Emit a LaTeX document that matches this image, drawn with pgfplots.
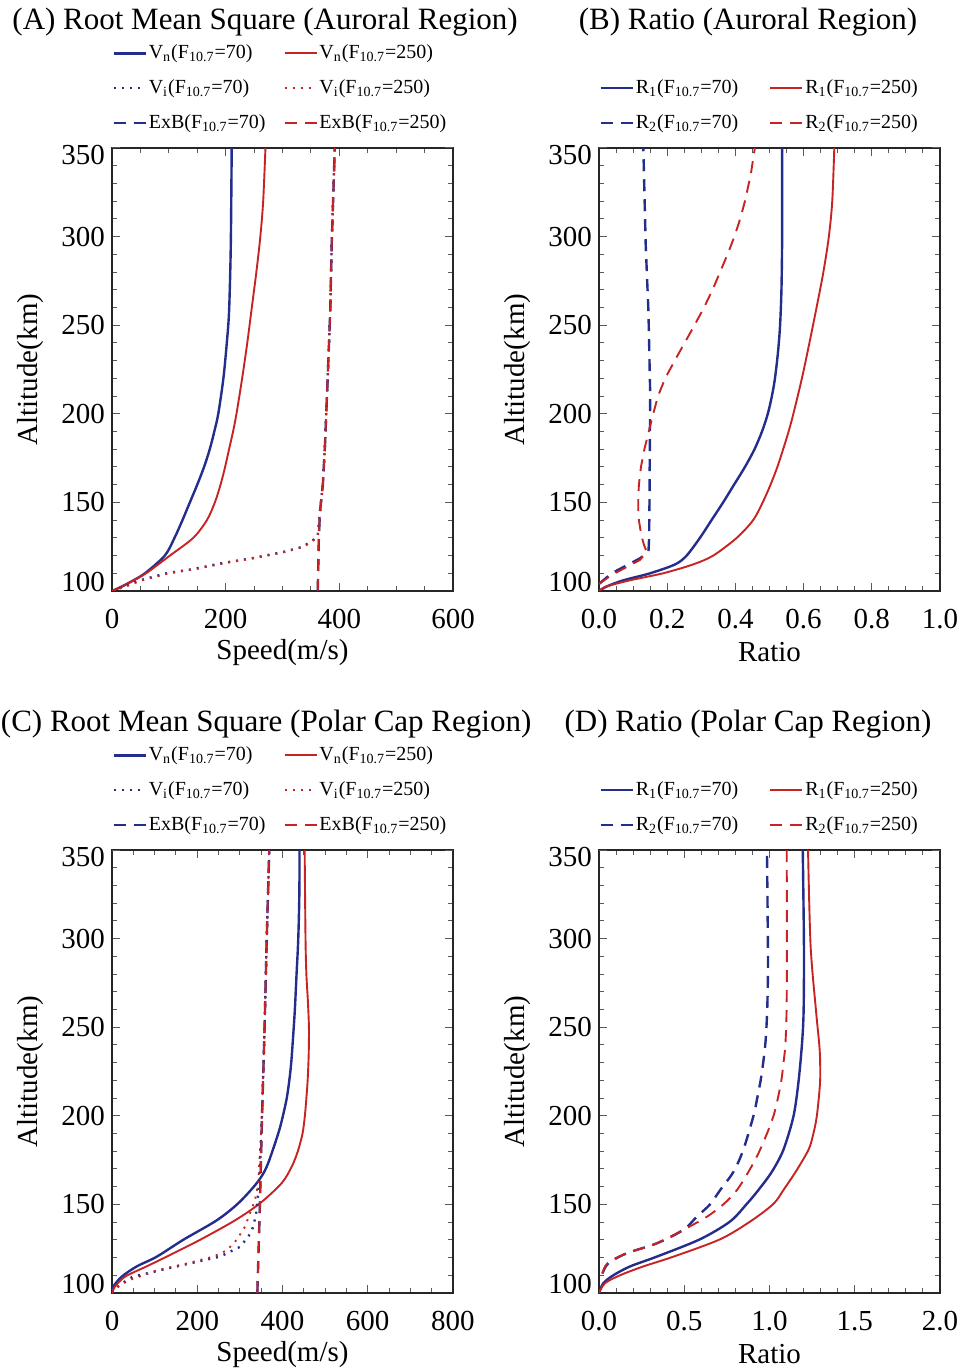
\documentclass[border=0pt]{standalone}
\usepackage{fontspec}
\setmainfont{Liberation Serif}
\usepackage{pgfplots}
\pgfplotsset{compat=1.18}

\definecolor{navy}{RGB}{35,45,140}
\definecolor{dred}{RGB}{200,35,35}

\pgfplotsset{
  panel/.style={
    scale only axis, width=170.5pt, height=221.5pt,
    ymin=100, ymax=350, ytick={100,150,...,300}, minor ytick={110,120,...,340},
    extra y ticks={350},
    extra y tick style={yticklabel style={yshift=-3.5pt}},
    tick align=inside, major tick length=4pt, minor tick length=2.5pt,
    axis line style={line width=0.6pt, black!85},
    every tick/.style={black!65, line width=0.5pt},
    tick label style={font=\fontsize{14.5}{16}\selectfont},
    xticklabel style={yshift=-5.5pt},
    yticklabel={\ifdim\tick pt<101pt\raisebox{9pt}{\pgfmathprintnumber{\tick}}\else\pgfmathprintnumber{\tick}\fi},
    label style={font=\fontsize{14.5}{16}\selectfont},
    /pgf/number format/assume math mode=true,
    ylabel={Altitude(km)},
    ylabel style={at={(axis description cs:-0.24,0.5)}, anchor=center},
    xlabel style={at={(axis description cs:0.5,-0.138)}, anchor=center},
    title style={font=\fontsize{15.5}{18}\selectfont, anchor=center, yshift=57pt},
    legend columns=2, legend cell align=left,
    legend style={draw=none, fill=none, at={(0,1)}, anchor=south west,
      yshift=7pt, inner sep=0pt, font=\fontsize{10}{12}\selectfont,
      row sep=7pt, nodes={inner sep=1pt},
      /tikz/column 2/.style={column sep=8pt}},
    legend image code/.code={\draw[#1] (0pt,0pt) -- (16pt,0pt);},
  },
  c70/.style={navy, line width=1.2pt},
  c250/.style={dred, line width=0.95pt},
  dots/.style={dash pattern=on 1pt off 3pt},
  dash/.style={dash pattern=on 6pt off 4pt},
}

\begin{document}
\begin{tikzpicture}
\useasboundingbox (0,0) rectangle (481pt,-684pt);

% (A)
\begin{axis}[panel, at={(56pt,-74pt)}, anchor=north west,
  xmin=0, xmax=600, xtick={0,200,400,600}, minor x tick num=3,
  xlabel={Speed(m/s)},
  title={(A) Root Mean Square (Auroral Region)},
  title style={at={(axis description cs:0.449,1)}}]
\addplot[c70, smooth] coordinates {(0,100)(14,102)(32,105)(58,110)(93,120)(110,130)(124,140)(137,150)(150,160)(162,170)(172,180)(180,190)(187,200)(196,220)(202,240)(206,258)(209,295)(210.6,350)};
\addplot[c250, smooth] coordinates {(0,100)(14,102)(32,105)(60,110)(102,120)(143,130)(167,140)(181,150)(191,160)(199,170)(206,180)(213,190)(219,200)(229,220)(238,240)(246,260)(254,280)(261,300)(266,320)(270,350)};
\addplot[c70, dots] coordinates {(0,100)(25,103)(49,106)(96,110)(143,112.4)(195,115.8)(248,118.6)(301,122)(336,125)(354,128.8)(362,131)(366,145)(371,160)(375,184)(379.5,220)(384,258)(386.5,295)(392,350)};
\addplot[c250, dots] coordinates {(0,100)(28,103)(52,106)(100,110)(148,112.4)(200,115.8)(252,118.6)(304,122)(338,125)(355,128.8)(362,131)(366,145)(371,160)(375,184)(379.5,220)(384,258)(386.5,295)(392,350)};
\addplot[c70, dash] coordinates {(362,100)(363,115)(364,131)(366,145)(371,160)(375,184)(379.5,220)(384,258)(386.5,295)(392,350)};
\addplot[c250, dash] coordinates {(362,100)(363,115)(364,131)(366,145)(371,160)(375,184)(379.5,220)(384,258)(386.5,295)(392,350)};
\legend{V\textsubscript{n}(F\textsubscript{10.7}=70), V\textsubscript{n}(F\textsubscript{10.7}=250),
  V\textsubscript{i}(F\textsubscript{10.7}=70), V\textsubscript{i}(F\textsubscript{10.7}=250),
  ExB(F\textsubscript{10.7}=70), ExB(F\textsubscript{10.7}=250)}
\end{axis}

% (B)
\begin{axis}[panel, at={(299.5pt,-74pt)}, anchor=north west,
  xmin=0, xmax=1, xtick={0,0.2,...,1.0}, minor x tick num=3,
  xticklabel style={/pgf/number format/.cd, fixed, fixed zerofill, precision=1},
  xlabel={Ratio},
  legend style={/tikz/column 2/.style={column sep=14.5pt}},
  title={(B) Ratio (Auroral Region)},
  title style={at={(axis description cs:0.437,1)}}]
\addplot[c70, smooth] coordinates {(0,100)(0.023,102.6)(0.071,106)(0.150,110)(0.223,115)(0.257,120)(0.296,130)(0.330,140)(0.364,150)(0.396,160)(0.428,170)(0.456,180)(0.478,190)(0.495,200)(0.507,210)(0.516,220)(0.525,235)(0.531,250)(0.535,270)(0.537,300)(0.537,350)};
\addplot[c250, smooth] coordinates {(0,100)(0.023,102.6)(0.09,106)(0.188,110)(0.276,115)(0.335,120)(0.404,130)(0.452,140)(0.480,150)(0.503,160)(0.523,170)(0.540,180)(0.556,190)(0.570,200)(0.595,220)(0.617,240)(0.638,260)(0.658,280)(0.674,300)(0.684,320)(0.690,350)};
\addplot[c70, dash] coordinates {(0,104)(0.037,110)(0.12,118.4)(0.145,122)(0.147,130)(0.148,150)(0.150,212)(0.145,257.6)(0.137,295)(0.130,350)};
\addplot[c250, dash] coordinates {(0,104)(0.037,109)(0.12,117.5)(0.14,122)(0.132,126)(0.126,130)(0.121,135)(0.117,140)(0.115,146)(0.115,152)(0.117,160)(0.123,170)(0.133,180)(0.146,190)(0.159,200)(0.173,210)(0.194,220)(0.222,230)(0.251,240)(0.280,250)(0.308,260)(0.333,270)(0.355,280)(0.377,290)(0.397,300)(0.414,310)(0.428,320)(0.445,335)(0.457,350)};
\legend{R\textsubscript{1}(F\textsubscript{10.7}=70), R\textsubscript{1}(F\textsubscript{10.7}=250),
  R\textsubscript{2}(F\textsubscript{10.7}=70), R\textsubscript{2}(F\textsubscript{10.7}=250)}
\end{axis}

% (C)
\begin{axis}[panel, at={(56pt,-425pt)}, anchor=north west,
  xmin=0, xmax=800, xtick={0,200,...,800}, minor x tick num=3,
  xlabel={Speed(m/s)},
  title={(C) Root Mean Square (Polar Cap Region)},
  title style={at={(axis description cs:0.452,1)}}]
\addplot[c70, smooth] coordinates {(0,100)(3,103.6)(22.7,109.2)(58,115)(105,120.5)(167,130)(245.6,141)(296,150.6)(339.5,162)(363,171.3)(390,190)(401,200)(410,210)(416,220)(420.5,230)(425,245)(429,260)(433,280)(437,300)(439.5,325)(440,350)};
\addplot[c250, smooth] coordinates {(0,100)(7,103.6)(30.5,109.2)(81,115)(128,120.5)(206.5,130)(288.6,141)(347,150.6)(398,162)(421.6,171.3)(436,180)(447,190)(452.5,200)(456,210)(459,220)(461.5,235)(462,250)(459.5,265)(456,280)(454,300)(452,350)};
\addplot[c70, dots] coordinates {(0,100)(20,105)(49,109.2)(151.7,115)(253,120.5)(300,126)(320,131.8)(331.5,137.4)(338,145)(343,156.3)(347,171)(352,200)(358,250)(363,300)(369,350)};
\addplot[c250, dots] coordinates {(0,100)(15,104)(42,107.4)(108,113)(175,116.6)(237,120.5)(269,124)(292.5,130)(312,137.4)(323.8,145)(335.5,152.5)(343,162)(349.6,190)(352.6,209)(358,250)(363,300)(369,350)};
\addplot[c70, dash] coordinates {(341,100)(347,150)(352,200)(358,250)(363,300)(369,350)};
\addplot[c250, dash] coordinates {(341,100)(347,150)(352,200)(358,250)(363,300)(369,350)};
\legend{V\textsubscript{n}(F\textsubscript{10.7}=70), V\textsubscript{n}(F\textsubscript{10.7}=250),
  V\textsubscript{i}(F\textsubscript{10.7}=70), V\textsubscript{i}(F\textsubscript{10.7}=250),
  ExB(F\textsubscript{10.7}=70), ExB(F\textsubscript{10.7}=250)}
\end{axis}

% (D)
\begin{axis}[panel, at={(299.5pt,-425pt)}, anchor=north west,
  xmin=0, xmax=2, xtick={0,0.5,...,2.0}, minor x tick num=4,
  xticklabel style={/pgf/number format/.cd, fixed, fixed zerofill, precision=1},
  xlabel={Ratio},
  legend style={/tikz/column 2/.style={column sep=14.5pt}},
  title={(D) Ratio (Polar Cap Region)},
  title style={at={(axis description cs:0.437,1)}}]
\addplot[c70, smooth] coordinates {(0,100)(0.025,105.5)(0.084,110)(0.182,115)(0.338,120.5)(0.592,130.3)(0.768,140.3)(0.866,150.2)(0.934,158)(1.013,168.3)(1.081,180.7)(1.14,199.5)(1.169,218.3)(1.19,240)(1.2,259)(1.202,296)(1.195,350)};
\addplot[c250, smooth] coordinates {(0,100)(0.035,105.5)(0.123,110)(0.26,115)(0.436,120.5)(0.71,130.3)(0.886,140.3)(1.022,150.2)(1.081,158)(1.16,169.4)(1.228,180.7)(1.253,188.2)(1.277,199.5)(1.296,218)(1.297,230)(1.292,240)(1.273,259)(1.241,296)(1.226,350)};
\addplot[c70, dash, smooth] coordinates {(0.02,111)(0.055,116.8)(0.162,122.4)(0.338,128)(0.494,135.6)(0.573,143)(0.651,150)(0.71,158)(0.788,168.3)(0.846,180.7)(0.906,200)(0.928,210)(0.948,220)(0.963,230)(0.975,240)(0.982,250)(0.988,265)(0.991,290)(0.985,350)};
\addplot[c250, dash, smooth] coordinates {(0.02,111)(0.05,116.8)(0.162,122.4)(0.338,128)(0.494,135.6)(0.632,143)(0.729,150)(0.808,158)(0.876,168.3)(0.944,180.7)(1.022,199.5)(1.066,218)(1.082,230)(1.093,240)(1.1,259)(1.102,296)(1.101,350)};
\legend{R\textsubscript{1}(F\textsubscript{10.7}=70), R\textsubscript{1}(F\textsubscript{10.7}=250),
  R\textsubscript{2}(F\textsubscript{10.7}=70), R\textsubscript{2}(F\textsubscript{10.7}=250)}
\end{axis}
\end{tikzpicture}
\end{document}
